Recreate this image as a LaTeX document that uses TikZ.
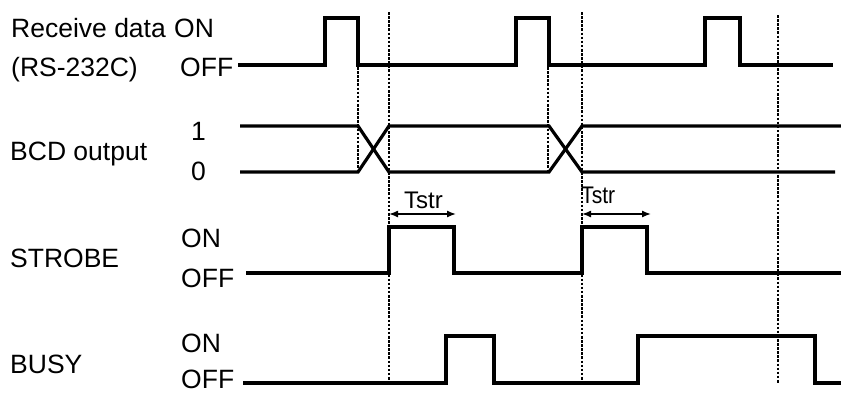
\documentclass[tikz,border=0pt]{standalone}
\usepackage{fontspec}
\setmainfont{Liberation Sans}
\usetikzlibrary{arrows.meta}
\begin{document}
\begin{tikzpicture}[x=1pt,y=-1pt,
  sig/.style={line width=3.2pt, line join=miter},
  guide/.style={line width=2.4pt, dash pattern=on 2.6pt off 1.5pt},
  lbl/.style={anchor=base west, inner sep=0pt, font=\fontsize{26.5}{30}\selectfont},
  tlbl/.style={anchor=base west, inner sep=0pt, font=\fontsize{24}{28}\selectfont},
  span/.style={line width=1.4pt, {Latex[length=9pt,width=7pt]}-{Latex[length=9pt,width=7pt]}}]
\useasboundingbox (0,0) rectangle (841,392);

% labels
\node[lbl] (rcv) at (11,37) {Receive data};
\node[lbl] (rcvon) at (174,37) {ON};
\node[lbl] (rs) at (11,76) {(RS-232C)};
\node[lbl] (rcvoff) at (180,76) {OFF};
\node[lbl] (bcd) at (10,160) {BCD output};
\node[lbl] (one) at (191,140) {1};
\node[lbl] (zero) at (191,180) {0};
\node[lbl] (stb) at (10,267) {STROBE};
\node[lbl] (stbon) at (181,247) {ON};
\node[lbl] (stboff) at (181,287) {OFF};
\node[lbl] (busy) at (10,373) {BUSY};
\node[lbl] (busyon) at (181,352) {ON};
\node[lbl] (busyoff) at (181,388) {OFF};

% guide lines
\draw[guide] (358,67) -- (358,172);
\draw[guide] (389,12) -- (389,383);
\draw[guide] (548,67) -- (548,172);
\draw[guide] (582,12) -- (582,383);
\draw[guide] (778,15) -- (778,383);

% Receive data
\draw[sig] (238,65) -- (325,65) -- (325,18) -- (358,18) -- (358,65) -- (516,65) -- (516,18) -- (549,18) -- (549,65) -- (705,65) -- (705,18) -- (740,18) -- (740,65) -- (833,65);

% BCD output
\draw[sig] (240,126) -- (358,126) -- (389,172) -- (549,172) -- (582,126) -- (841,126);
\draw[sig] (240,172) -- (358,172) -- (389,126) -- (549,126) -- (582,172) -- (835,172);

% STROBE
\draw[sig] (246,273) -- (389,273) -- (389,227) -- (454,227) -- (454,273) -- (582,273) -- (582,227) -- (647,227) -- (647,273) -- (841,273);

% BUSY
\draw[sig] (243,383) -- (446,383) -- (446,336) -- (494,336) -- (494,383) -- (638,383) -- (638,336) -- (815,336) -- (815,383) -- (841,383);

% Tstr spans
\coordinate (a1) at (389,214);
\coordinate (b1) at (456,214);
\coordinate (a2) at (582,214);
\coordinate (b2) at (651,214);
\draw[span] (a1) -- (b1);
\draw[span] (a2) -- (b2);
\node[tlbl] (t1) at (404,208) {Tstr};
\node[tlbl, xscale=0.88] (t2) at (581,203) {Tstr};
\end{tikzpicture}
\end{document}
